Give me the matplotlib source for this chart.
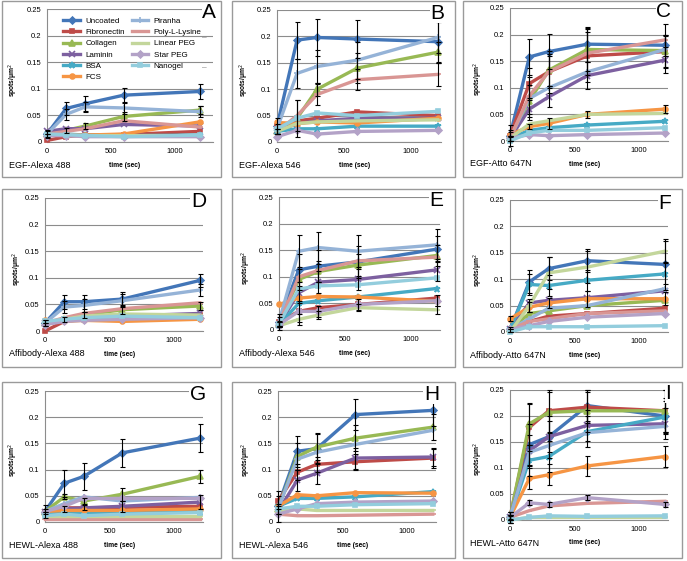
import matplotlib
matplotlib.use("Agg")
import matplotlib.pyplot as plt
from matplotlib.patches import Rectangle

W, H = 687, 561

TIME = [0, 150, 300, 600, 1200]
SERIES = ["Uncoated", "Fibronectin", "Collagen", "Laminin", "BSA", "FCS",
          "Piranha", "Poly-L-Lysine", "Linear PEG", "Star PEG", "Nanogel"]
COLORS = ["#4376B8", "#BE4B48", "#98B954", "#7D60A0", "#46AAC5", "#F69544",
          "#95B3D7", "#D99694", "#C3D69B", "#B3A2C7", "#93CDDD"]
MARKERS = ["D", "s", "^", "x", "*", "o", "+", "_", "_", "D", "s"]

# values per panel, rows in SERIES order
egf_488 = [
    [0.015, 0.063, 0.072, 0.088, 0.095],
    [0.003, 0.010, 0.013, 0.014, 0.020],
    [0.015, 0.022, 0.030, 0.048, 0.060],
    [0.020, 0.025, 0.025, 0.033, 0.030],
    [0.015, 0.015, 0.013, 0.012, 0.013],
    [0.015, 0.013, 0.013, 0.015, 0.038],
    [0.015, 0.052, 0.066, 0.064, 0.057],
    [0.015, 0.020, 0.025, 0.040, 0.028],
    [0.015, 0.012, 0.012, 0.012, 0.012],
    [0.012, 0.012, 0.010, 0.010, 0.010],
    [0.015, 0.014, 0.012, 0.010, 0.013],
]
egf_488_err = {
    "Uncoated": [0.008, 0.013, 0.014, 0.014, 0.014],
    "Piranha": [0.005, 0.010, 0.010, 0.012, 0.010],
    "Collagen": [0.0, 0.005, 0.006, 0.008, 0.007],
}

egf_546 = [
    [0.030, 0.193, 0.198, 0.195, 0.190],
    [0.030, 0.040, 0.045, 0.057, 0.050],
    [0.020, 0.045, 0.100, 0.140, 0.170],
    [0.020, 0.035, 0.040, 0.045, 0.045],
    [0.020, 0.025, 0.025, 0.030, 0.030],
    [0.037, 0.035, 0.038, 0.036, 0.045],
    [0.025, 0.130, 0.143, 0.155, 0.198],
    [0.020, 0.050, 0.090, 0.118, 0.128],
    [0.020, 0.035, 0.038, 0.040, 0.042],
    [0.010, 0.022, 0.015, 0.020, 0.022],
    [0.025, 0.045, 0.055, 0.050, 0.058],
]
egf_546_err = {
    "Uncoated": [0.015, 0.035, 0.035, 0.036, 0.038],
    "Piranha": [0.010, 0.028, 0.032, 0.035, 0.030],
    "Collagen": [0.005, 0.035, 0.012, 0.028, 0.020],
    "Poly-L-Lysine": [0.005, 0.030, 0.020, 0.020, 0.022],
}

egf_647 = [
    [0.010, 0.158, 0.168, 0.182, 0.180],
    [0.010, 0.108, 0.130, 0.160, 0.168],
    [0.005, 0.075, 0.133, 0.172, 0.170],
    [0.005, 0.060, 0.083, 0.123, 0.152],
    [0.005, 0.020, 0.025, 0.030, 0.037],
    [0.012, 0.027, 0.033, 0.050, 0.060],
    [0.005, 0.080, 0.100, 0.130, 0.172],
    [0.005, 0.085, 0.130, 0.165, 0.190],
    [0.005, 0.032, 0.038, 0.050, 0.052],
    [0.005, 0.012, 0.010, 0.012, 0.015],
    [0.000, 0.015, 0.020, 0.020, 0.025],
]
egf_647_err = {
    "Uncoated": [0.020, 0.033, 0.033, 0.033, 0.020],
    "Fibronectin": [0.010, 0.030, 0.030, 0.050, 0.030],
    "Collagen": [0.005, 0.030, 0.030, 0.040, 0.030],
    "Poly-L-Lysine": [0.005, 0.035, 0.040, 0.040, 0.030],
    "Laminin": [0.005, 0.020, 0.020, 0.025, 0.025],
    "FCS": [0.005, 0.005, 0.010, 0.007, 0.007],
}

aff_488 = [
    [0.015, 0.055, 0.055, 0.060, 0.095],
    [0.000, 0.018, 0.022, 0.025, 0.030],
    [0.015, 0.022, 0.030, 0.040, 0.047],
    [0.015, 0.020, 0.022, 0.028, 0.033],
    [0.015, 0.020, 0.022, 0.022, 0.025],
    [0.020, 0.018, 0.020, 0.018, 0.022],
    [0.015, 0.045, 0.048, 0.057, 0.077],
    [0.015, 0.025, 0.033, 0.042, 0.053],
    [0.015, 0.022, 0.028, 0.032, 0.030],
    [0.012, 0.018, 0.020, 0.022, 0.025],
    [0.018, 0.022, 0.025, 0.028, 0.025],
]
aff_488_err = {
    "Uncoated": [0.005, 0.013, 0.013, 0.013, 0.013],
    "Piranha": [0.005, 0.012, 0.012, 0.012, 0.012],
    "Collagen": [0.0, 0.005, 0.005, 0.008, 0.008],
}

aff_546 = [
    [0.015, 0.113, 0.120, 0.128, 0.152],
    [0.015, 0.035, 0.042, 0.048, 0.060],
    [0.012, 0.095, 0.110, 0.122, 0.140],
    [0.010, 0.070, 0.090, 0.095, 0.113],
    [0.010, 0.050, 0.055, 0.062, 0.078],
    [0.048, 0.060, 0.063, 0.062, 0.054],
    [0.015, 0.148, 0.155, 0.148, 0.160],
    [0.012, 0.100, 0.112, 0.130, 0.137],
    [0.008, 0.020, 0.028, 0.042, 0.038],
    [0.010, 0.035, 0.035, 0.048, 0.055],
    [0.012, 0.077, 0.083, 0.085, 0.098],
]
aff_546_err = {
    "Piranha": [0.015, 0.030, 0.030, 0.030, 0.030],
    "Uncoated": [0.010, 0.030, 0.030, 0.030, 0.025],
    "Collagen": [0.005, 0.020, 0.020, 0.020, 0.020],
    "Laminin": [0.005, 0.020, 0.020, 0.020, 0.020],
    "Star PEG": [0.005, 0.020, 0.010, 0.010, 0.010],
    "Linear PEG": [0.0, 0.010, 0.008, 0.007, 0.007],
}

aff_647 = [
    [0.005, 0.095, 0.120, 0.135, 0.128],
    [0.005, 0.020, 0.030, 0.035, 0.045],
    [0.005, 0.035, 0.040, 0.050, 0.060],
    [0.005, 0.055, 0.060, 0.065, 0.078],
    [0.005, 0.090, 0.088, 0.098, 0.110],
    [0.025, 0.047, 0.055, 0.063, 0.063],
    [0.005, 0.025, 0.045, 0.050, 0.082],
    [0.005, 0.020, 0.025, 0.035, 0.040],
    [0.000, 0.050, 0.112, 0.123, 0.153],
    [0.005, 0.012, 0.020, 0.028, 0.035],
    [0.000, 0.010, 0.010, 0.010, 0.012],
]
aff_647_err = {
    "Uncoated": [0.005, 0.022, 0.022, 0.022, 0.048],
    "Linear PEG": [0.0, 0.012, 0.030, 0.030, 0.020],
    "BSA": [0.0, 0.020, 0.020, 0.020, 0.020],
    "FCS": [0.005, 0.010, 0.010, 0.015, 0.012],
}

hewl_488 = [
    [0.020, 0.074, 0.087, 0.132, 0.160],
    [0.020, 0.027, 0.027, 0.028, 0.030],
    [0.020, 0.048, 0.040, 0.053, 0.087],
    [0.020, 0.025, 0.027, 0.030, 0.038],
    [0.015, 0.018, 0.018, 0.018, 0.020],
    [0.020, 0.022, 0.022, 0.022, 0.025],
    [0.020, 0.035, 0.048, 0.040, 0.047],
    [0.005, 0.005, 0.005, 0.005, 0.005],
    [0.012, 0.012, 0.012, 0.012, 0.012],
    [0.020, 0.030, 0.045, 0.045, 0.045],
    [0.012, 0.015, 0.012, 0.015, 0.018],
]
hewl_488_err = {
    "Uncoated": [0.013, 0.026, 0.026, 0.027, 0.027],
    "Collagen": [0.005, 0.005, 0.005, 0.012, 0.012],
    "Laminin": [0.0, 0.005, 0.005, 0.010, 0.013],
}

hewl_546 = [
    [0.030, 0.135, 0.140, 0.205, 0.213],
    [0.040, 0.095, 0.110, 0.115, 0.122],
    [0.025, 0.125, 0.143, 0.160, 0.181],
    [0.020, 0.080, 0.093, 0.122, 0.124],
    [0.030, 0.045, 0.045, 0.048, 0.058],
    [0.030, 0.052, 0.050, 0.056, 0.055],
    [0.025, 0.120, 0.133, 0.148, 0.175],
    [0.015, 0.012, 0.012, 0.013, 0.015],
    [0.020, 0.025, 0.022, 0.022, 0.022],
    [0.015, 0.025, 0.035, 0.038, 0.040],
    [0.025, 0.030, 0.030, 0.033, 0.035],
]
hewl_546_err = {
    "Uncoated": [0.030, 0.030, 0.030, 0.030, 0.030],
    "Collagen": [0.010, 0.025, 0.025, 0.025, 0.025],
    "Fibronectin": [0.010, 0.015, 0.015, 0.015, 0.018],
    "Laminin": [0.005, 0.020, 0.020, 0.020, 0.018],
}

hewl_647 = [
    [0.005, 0.145, 0.160, 0.220, 0.200],
    [0.005, 0.178, 0.210, 0.217, 0.210],
    [0.005, 0.185, 0.207, 0.210, 0.210],
    [0.005, 0.133, 0.160, 0.182, 0.185],
    [0.005, 0.115, 0.122, 0.170, 0.198],
    [0.005, 0.080, 0.087, 0.104, 0.122],
    [0.005, 0.130, 0.143, 0.168, 0.180],
    [0.005, 0.018, 0.027, 0.032, 0.036],
    [0.000, 0.005, 0.005, 0.005, 0.005],
    [0.005, 0.033, 0.030, 0.043, 0.030],
    [0.000, 0.005, 0.008, 0.007, 0.008],
]
hewl_647_err = {
    "Uncoated": [0.010, 0.040, 0.040, 0.030, 0.035],
    "Fibronectin": [0.010, 0.045, 0.040, 0.030, 0.040],
    "Collagen": [0.010, 0.040, 0.040, 0.040, 0.040],
    "Laminin": [0.005, 0.030, 0.030, 0.030, 0.030],
    "BSA": [0.005, 0.030, 0.030, 0.030, 0.030],
    "FCS": [0.005, 0.020, 0.020, 0.020, 0.020],
    "Star PEG": [0.003, 0.005, 0.005, 0.005, 0.005],
}

PANELS = [
    ("A", "EGF-Alexa 488", egf_488, egf_488_err),
    ("B", "EGF-Alexa 546", egf_546, egf_546_err),
    ("C", "EGF-Atto 647N", egf_647, egf_647_err),
    ("D", "Affibody-Alexa 488", aff_488, aff_488_err),
    ("E", "Affibody-Alexa 546", aff_546, aff_546_err),
    ("F", "Affibody-Atto 647N", aff_647, aff_647_err),
    ("G", "HEWL-Alexa 488", hewl_488, hewl_488_err),
    ("H", "HEWL-Alexa 546", hewl_546, hewl_546_err),
    ("I", "HEWL-Atto 647N", hewl_647, hewl_647_err),
]

# layout in pixels: (left, top, right, bottom) of each plot area
AX_PX = [(47, 9, 213, 142), (277, 10, 441, 142), (510, 8, 668, 141),
         (45, 198, 203, 331), (279, 197, 440, 330), (510, 200, 668, 332),
         (45, 391, 203, 522), (278, 391, 436, 522), (510, 390, 668, 520)]
COL_PX = [(2, 221), (232, 455), (463, 682)]
ROW_PX = [(1, 177), (189, 367), (382, 558)]

plt.rcParams['font.family'] = ['Liberation Sans', 'DejaVu Sans']

fig = plt.figure(figsize=(W / 100, H / 100), dpi=100)
fig.patch.set_facecolor("white")

for r, (y0, y1) in enumerate(ROW_PX):
    for c, (x0, x1) in enumerate(COL_PX):
        fig.add_artist(Rectangle((x0 / W, 1 - y1 / H), (x1 - x0) / W, (y1 - y0) / H,
                                 transform=fig.transFigure, fill=False,
                                 edgecolor="#9A9A9A", linewidth=1.0))


def draw_panel(ax, values, errors, letter, name, xmax):
    for i, s in enumerate(SERIES):
        ms = 3.5 if MARKERS[i] in ("D", "s", "o") else 4.5
        ax.plot(TIME, values[i], color=COLORS[i], linewidth=2.4, marker=MARKERS[i],
                markersize=ms, markeredgewidth=1.2, label=s, clip_on=False, zorder=3 + i * 0.01)
        if s in errors:
            ax.errorbar(TIME, values[i], yerr=errors[s], fmt="none", ecolor="black",
                        elinewidth=0.8, capsize=1.8, capthick=0.8, clip_on=False, zorder=4)
    ax.set_xlim(0, xmax)
    ax.set_ylim(0, 0.25)
    ax.set_yticks([0, 0.05, 0.1, 0.15, 0.2, 0.25])
    ax.set_yticklabels(["0", "0.05", "0.1", "0.15", "0.2", "0.25"])
    ax.set_xticks([0, 500, 1000])
    ax.tick_params(length=0, labelsize=5.5, pad=4)
    ax.grid(axis="y", color="#8C8C8C", linewidth=0.8)
    ax.set_axisbelow(True)
    for sp in ("top", "right"):
        ax.spines[sp].set_visible(False)
    for sp in ("left", "bottom"):
        ax.spines[sp].set_color("#8C8C8C")
        ax.spines[sp].set_linewidth(0.8)
    ax.set_xlabel("time (sec)", fontsize=4.8, fontweight="bold")
    ax.xaxis.set_label_coords(0.47, -0.15)
    ax.set_ylabel("spots/\u03bcm$^2$", fontsize=4.8, fontweight="bold")
    ax.text(1.02, 0.975, letter, transform=ax.transAxes, ha="right", va="center",
            fontsize=15, bbox=dict(facecolor="white", edgecolor="none", pad=0.5), zorder=10)


for k, (letter, name, values, errors) in enumerate(PANELS):
    l, t, r, b = AX_PX[k]
    ax = fig.add_axes([l / W, 1 - b / H, (r - l) / W, (b - t) / H])
    xmax = 1300 if letter == "A" else 1225
    draw_panel(ax, values, errors, letter, name, xmax)
    ax.yaxis.set_label_coords(-0.135 if letter == "D" else -0.16, 0.47)
    fx = COL_PX[k % 3][0] + 7
    fy = b + 23
    fig.text(fx / W, 1 - fy / H, name, fontsize=6.5, ha="left", va="center")
    if letter == "A":
        leg = ax.legend(loc="upper left", bbox_to_anchor=(0.07, 0.975), ncol=2, frameon=False,
                        fontsize=5.8, handlelength=2.0, handletextpad=0.7,
                        columnspacing=0.9, labelspacing=0.45, borderaxespad=0.2)
        for sy in (0.78, 0.56):
            ax.text(0.95, sy, "\u2013", transform=ax.transAxes, color="#7F7F7F",
                    fontsize=6, ha="center", va="center")

fig.savefig("out.png", dpi=100)
